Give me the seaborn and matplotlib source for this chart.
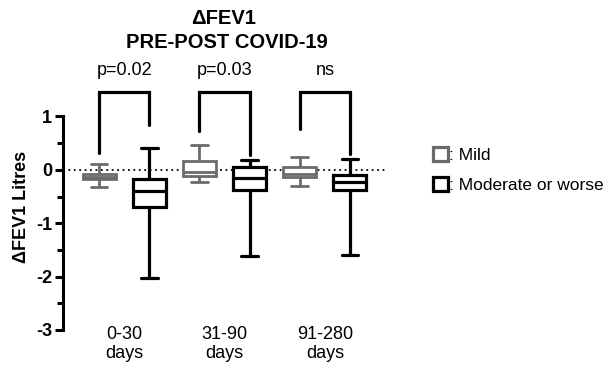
import pandas as pd
import seaborn as sns
import matplotlib.pyplot as plt
from matplotlib.patches import Patch

# five-number summaries (min, q1, median, q3, max)
periods = ["0-30\ndays", "31-90\ndays", "91-280\ndays"]
severity = ["Mild", "Moderate or worse"]
mild_stats = [
    [-0.33, -0.18, -0.13, -0.08, 0.11],
    [-0.22, -0.11, -0.04, 0.17, 0.46],
    [-0.30, -0.13, -0.07, 0.06, 0.24],
]
moderate_stats = [
    [-2.03, -0.69, -0.39, -0.17, 0.40],
    [-1.61, -0.37, -0.16, 0.05, 0.19],
    [-1.60, -0.38, -0.22, -0.10, 0.21],
]
# significance brackets: label, left leg bottom, right leg bottom, top
p_labels = ["p=0.02", "p=0.03", "ns"]
bracket_left = [0.32, 0.72, 0.76]
bracket_right = [0.84, 0.28, 0.30]
bracket_top = 1.46

colors = {"Mild": "#6b6b6b", "Moderate or worse": "black"}
widths = {"Mild": 2.0, "Moderate or worse": 2.3}

rows = []
for i, period in enumerate(periods):
    for v in mild_stats[i]:
        rows.append({"period": period, "severity": "Mild", "value": v})
    for v in moderate_stats[i]:
        rows.append({"period": period, "severity": "Moderate or worse", "value": v})
df = pd.DataFrame(rows)

sns.set_style("ticks")
plt.rcParams["font.family"] = ["Liberation Sans", "DejaVu Sans"]
plt.rcParams["axes.unicode_minus"] = False
plt.rcParams["text.color"] = "black"
plt.rcParams["axes.labelcolor"] = "black"
plt.rcParams["ytick.color"] = "black"
plt.rcParams["xtick.color"] = "black"

fig = plt.figure(figsize=(6.08, 3.66), dpi=100)
ax = fig.add_axes([63 / 608, 36 / 366, (385 - 63) / 608, 245.6 / 366])

ax.axhline(0, color="black", lw=1.3, ls=(0, (1, 2)), zorder=0)

for sev in severity:
    c = colors[sev]
    lw = widths[sev]
    sns.boxplot(
        data=df[df["severity"] == sev], x="period", y="value", hue="severity",
        hue_order=severity, order=periods, whis=(0, 100), width=1.0, gap=0.34,
        dodge=True, palette={s: "white" for s in severity}, saturation=1,
        linecolor=c, linewidth=lw, legend=False, ax=ax,
        boxprops={"edgecolor": c, "linewidth": lw, "zorder": 2},
        medianprops={"color": c, "linewidth": lw},
        whiskerprops={"color": c, "linewidth": lw},
        capprops={"color": c, "linewidth": lw},
    )

for i in range(len(periods)):
    xl, xr = i - 0.25, i + 0.25
    ax.plot([xl, xl, xr, xr], [bracket_left[i], bracket_top, bracket_top, bracket_right[i]],
            color="black", lw=2.3, clip_on=False, solid_joinstyle="miter")
    ax.text(i, 1.7, p_labels[i], ha="center", va="bottom", fontsize=13, clip_on=False)

ax.set_xlim(-0.61, 2.6)
ax.set_ylim(-3, 1.6)
ax.spines["left"].set_bounds(-3, 1)
ax.spines["left"].set_linewidth(2.2)
ax.spines["left"].set_color("black")
sns.despine(ax=ax, bottom=True)
ax.set_yticks([-3, -2, -1, 0, 1])
ax.set_yticks([-2.5, -1.5, -0.5, 0.5], minor=True)
ax.tick_params(axis="y", which="major", length=6, width=2.2, labelsize=13, pad=2)
ax.tick_params(axis="y", which="minor", length=4, width=2.2)
for t in ax.get_yticklabels():
    t.set_fontweight("bold")
ax.tick_params(axis="x", length=0, labelsize=13, pad=-3)
ax.set_xlabel("")
ax.set_ylabel("ΔFEV1 Litres", fontsize=13, fontweight="bold", labelpad=4)

fig.text(224 / 608, 1 - 19 / 366, "ΔFEV1", ha="center", va="center", fontsize=14.5, fontweight="bold")
fig.text(227 / 608, 1 - 43 / 366, "PRE-POST COVID-19", ha="center", va="center", fontsize=14.5, fontweight="bold")

handles = [Patch(facecolor="white", edgecolor=colors[s], linewidth=2.3) for s in severity]
fig.legend(handles, [": " + s for s in severity], loc="upper left",
           bbox_to_anchor=(426 / 608, 1 - 140 / 366), frameon=False, fontsize=12.5,
           handlelength=0.85, handleheight=0.85, handletextpad=0.05, labelspacing=0.8,
           borderaxespad=0)

fig.savefig("out.png", dpi=100)
